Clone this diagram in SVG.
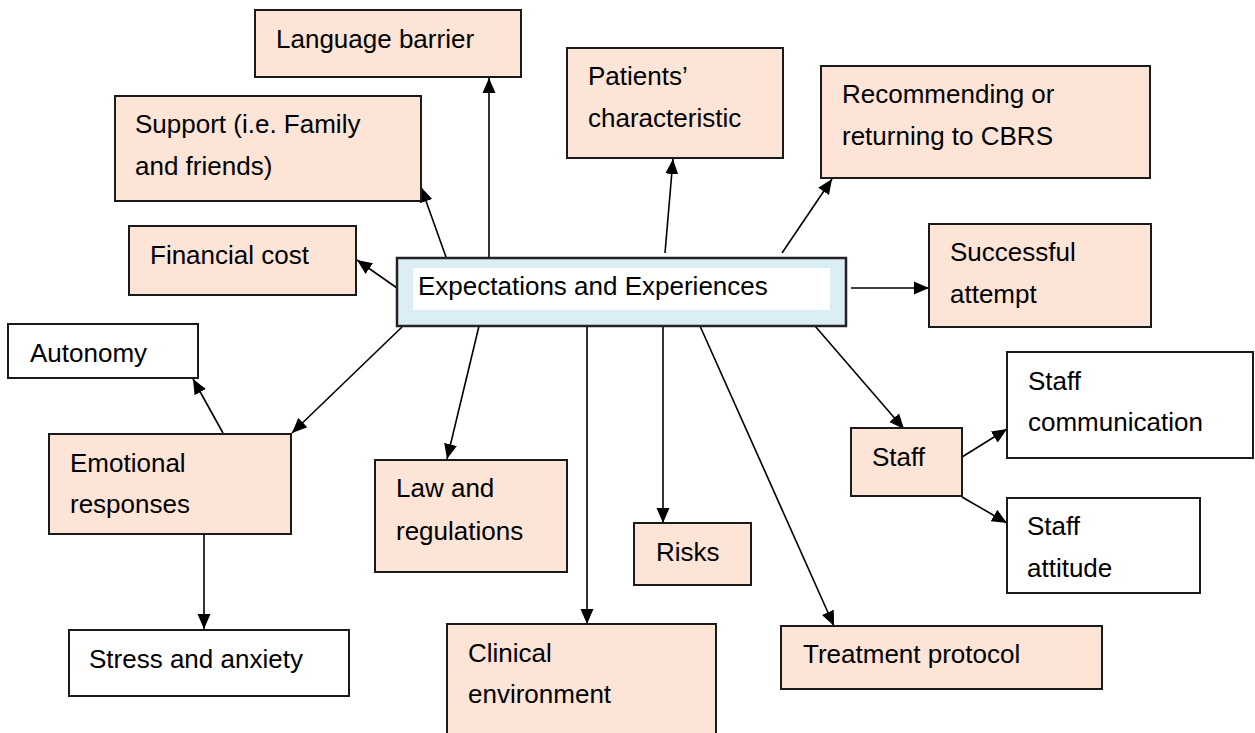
<svg xmlns="http://www.w3.org/2000/svg" width="1255" height="733" viewBox="0 0 1255 733">
<style>
.n{fill:#FCE4D6;stroke:#1a1a1a;stroke-width:2}
.w{fill:#ffffff;stroke:#1a1a1a;stroke-width:2}
.c{fill:#DAEEF3;stroke:#222;stroke-width:2.5}
.t{font-family:"Liberation Sans",Arial,sans-serif;font-size:26px;fill:#000}
.e{stroke:#000;stroke-width:1.6;fill:none;marker-end:url(#ah)}
</style>
<defs>
<marker id="ah" markerUnits="userSpaceOnUse" markerWidth="16" markerHeight="14" refX="15" refY="6.5" orient="auto" viewBox="0 0 16 13">
<path d="M0,0 L15,6.5 L0,13 z" fill="#000"/>
</marker>
</defs>
<rect width="1255" height="733" fill="#fff"/>
<g id="connectors">
<line class="e" x1="489" y1="258" x2="489" y2="78"/>
<line class="e" x1="446" y1="257" x2="421" y2="187"/>
<line class="e" x1="397" y1="288" x2="357" y2="260"/>
<line class="e" x1="665" y1="253" x2="673" y2="159"/>
<line class="e" x1="782" y1="253" x2="832" y2="179"/>
<line class="e" x1="851" y1="288" x2="929" y2="288"/>
<line class="e" x1="815" y1="326" x2="904" y2="429"/>
<line class="e" x1="962" y1="457" x2="1007" y2="429"/>
<line class="e" x1="962" y1="497" x2="1007" y2="523"/>
<line class="e" x1="700" y1="326" x2="834" y2="626"/>
<line class="e" x1="663" y1="326" x2="663" y2="523"/>
<line class="e" x1="587" y1="326" x2="587" y2="624"/>
<line class="e" x1="479" y1="326" x2="447" y2="459"/>
<line class="e" x1="402" y1="327" x2="292" y2="433"/>
<line class="e" x1="223" y1="433" x2="193" y2="379"/>
<line class="e" x1="204" y1="534" x2="204" y2="629"/>
</g>
<g id="language">
<rect class="n" x="255" y="10" width="266" height="67"/>
<text class="t" x="276" y="48">Language barrier</text>
</g>
<g id="support">
<rect class="n" x="115" y="96" width="306" height="105"/>
<text class="t" x="135" y="133">Support (i.e. Family</text>
<text class="t" x="135" y="175">and friends)</text>
</g>
<g id="financial">
<rect class="n" x="129" y="226" width="227" height="69"/>
<text class="t" x="150" y="264">Financial cost</text>
</g>
<g id="patients">
<rect class="n" x="567" y="48" width="216" height="110"/>
<text class="t" x="588" y="85">Patients’</text>
<text class="t" x="588" y="127">characteristic</text>
</g>
<g id="recommending">
<rect class="n" x="821" y="66" width="329" height="112"/>
<text class="t" x="842" y="103">Recommending or</text>
<text class="t" x="842" y="145">returning to CBRS</text>
</g>
<g id="successful">
<rect class="n" x="929" y="224" width="222" height="103"/>
<text class="t" x="950" y="261">Successful</text>
<text class="t" x="950" y="303">attempt</text>
</g>
<g id="center">
<rect class="c" x="397" y="258" width="449" height="68"/>
<rect x="413" y="268" width="417" height="42" fill="#fff"/>
<text class="t" x="418" y="295">Expectations and Experiences</text>
</g>
<g id="autonomy">
<rect class="w" x="8" y="324" width="190" height="54"/>
<text class="t" x="30" y="362">Autonomy</text>
</g>
<g id="emotional">
<rect class="n" x="49" y="434" width="242" height="100"/>
<text class="t" x="70" y="472">Emotional</text>
<text class="t" x="70" y="513">responses</text>
</g>
<g id="law">
<rect class="n" x="375" y="460" width="192" height="112"/>
<text class="t" x="396" y="497">Law and</text>
<text class="t" x="396" y="540">regulations</text>
</g>
<g id="stress">
<rect class="w" x="69" y="630" width="280" height="66"/>
<text class="t" x="89" y="668">Stress and anxiety</text>
</g>
<g id="clinical">
<rect class="n" x="447" y="624" width="269" height="130"/>
<text class="t" x="468" y="662">Clinical</text>
<text class="t" x="468" y="703">environment</text>
</g>
<g id="risks">
<rect class="n" x="634" y="523" width="117" height="62"/>
<text class="t" x="656" y="561">Risks</text>
</g>
<g id="treatment">
<rect class="n" x="781" y="626" width="321" height="63"/>
<text class="t" x="803" y="663">Treatment protocol</text>
</g>
<g id="staff">
<rect class="n" x="851" y="428" width="111" height="68"/>
<text class="t" x="872" y="466">Staff</text>
</g>
<g id="staff-communication">
<rect class="w" x="1007" y="352" width="246" height="106"/>
<text class="t" x="1028" y="390">Staff</text>
<text class="t" x="1028" y="431">communication</text>
</g>
<g id="staff-attitude">
<rect class="w" x="1007" y="498" width="193" height="95"/>
<text class="t" x="1027" y="535">Staff</text>
<text class="t" x="1027" y="577">attitude</text>
</g>
</svg>
